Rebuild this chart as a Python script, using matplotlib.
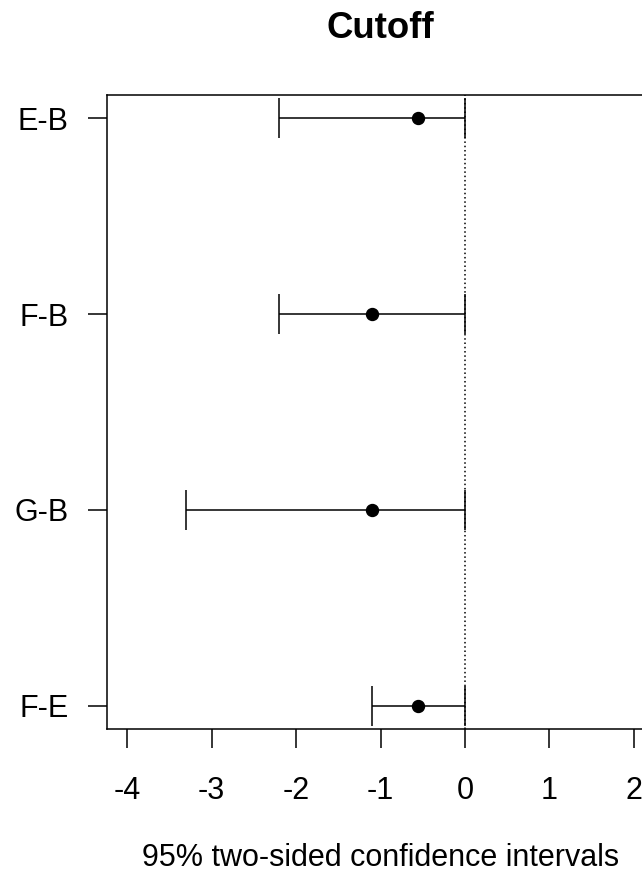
import matplotlib
matplotlib.use("Agg")
import matplotlib.pyplot as plt

plt.rcParams["font.family"] = ["Liberation Sans", "DejaVu Sans"]

# comparisons, top to bottom
labels = ["E-B", "F-B", "G-B", "F-E"]
centers = [-0.55, -1.1, -1.1, -0.55]
lowers = [-2.2, -2.2, -3.3, -1.1]
uppers = [0.0, 0.0, 0.0, 0.0]
xticks = [-4, -3, -2, -1, 0, 1, 2]

fig = plt.figure(figsize=(6.42, 8.73), dpi=100)
ax = fig.add_axes([107 / 642, 1 - 729 / 873, 547 / 642, 634 / 873])

ypos = list(range(len(labels), 0, -1))
xerr = [[c - lo for c, lo in zip(centers, lowers)],
        [up - c for c, up in zip(centers, uppers)]]

ax.axvline(0, color="black", linewidth=1.1, linestyle=(0, (1.0, 1.8)), zorder=1)
ax.errorbar(centers, ypos, xerr=xerr, fmt="o", color="black",
            markersize=8.6, elinewidth=1.1, capsize=14.4, capthick=1.1, zorder=3)

ax.set_xlim(-4.24, 2.24)
ax.set_ylim(0.88, 4.12)
ax.set_xticks(xticks)
ax.set_xticklabels([str(t) for t in xticks])
ax.set_yticks(ypos)
ax.set_yticklabels(labels)

for s in ax.spines.values():
    s.set_linewidth(1.1)
ax.tick_params(axis="both", direction="out", length=13.7, width=1.1, labelsize=22)
ax.tick_params(axis="x", pad=20)
ax.tick_params(axis="y", pad=14)

ax.set_xlabel("95% two-sided confidence intervals", fontsize=22, labelpad=27)
ax.set_title("Cutoff", fontsize=26.4, fontweight="bold", pad=41)

fig.savefig("out.png", dpi=100)
